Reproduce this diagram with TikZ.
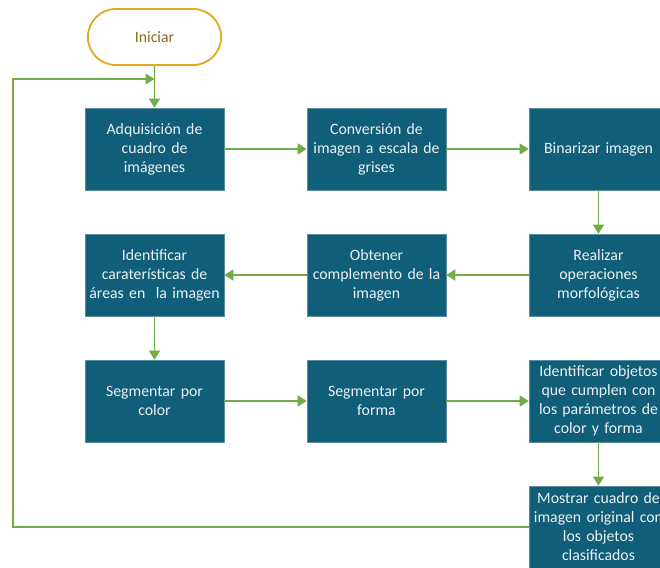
\documentclass[tikz,border=0pt]{standalone}
\usepackage{fontspec}
\setmainfont{Carlito}
\usetikzlibrary{arrows.meta,shapes.misc}
\definecolor{boxfill}{RGB}{16,94,120}
\definecolor{boxtext}{RGB}{236,242,246}
\definecolor{arrowgreen}{RGB}{112,173,71}
\definecolor{termline}{RGB}{228,168,30}
\definecolor{termtext}{RGB}{140,106,30}
\tikzset{
  stepbox/.style={rectangle, fill=boxfill, draw=boxfill!70!white, line width=0.6pt,
    minimum width=137pt, minimum height=82pt, inner sep=1pt,
    text=boxtext, align=center, font=\fontsize{15.8}{19}\selectfont, text width=137pt},
  termbox/.style={rounded rectangle, draw=termline, line width=1.8pt, fill=white,
    minimum width=140pt, minimum height=56pt, text=termtext,
    font=\fontsize{15.8}{19}\selectfont},
  flow/.style={draw=arrowgreen, line width=1.3pt,
    -{Triangle[length=9pt,width=11pt]}},
}
\begin{document}
\begin{tikzpicture}[x=1pt,y=-1pt]
\useasboundingbox (0,0) rectangle (660,567);
\clip (0,0) rectangle (660,567);
\node[termbox] (start) at (154.5,37) {Iniciar};
\node[stepbox] (a) at (154.5,149) {Adquisición de\\cuadro de\\imágenes};
\node[stepbox] (b) at (376.5,149) {Conversión de\\imagen a escala de\\grises};
\node[stepbox] (c) at (598.5,149) {Binarizar imagen};
\node[stepbox] (d) at (598.5,275) {Realizar\\operaciones\\morfológicas};
\node[stepbox] (e) at (376.5,275) {Obtener\\complemento de la\\imagen};
\node[stepbox] (f) at (154.5,275) {Identificar\\caraterísticas de\\áreas en\ \ la imagen};
\node[stepbox] (g) at (154.5,401) {Segmentar por\\color};
\node[stepbox] (h) at (376.5,401) {Segmentar por\\forma};
\node[stepbox] (i) at (598.5,401) {Identificar objetos\\que cumplen con\\los parámetros de\\color y forma};
\node[stepbox] (j) at (598.5,527) {Mostrar cuadro de\\imagen original con\\los objetos\\clasificados};
\coordinate (loopbl) at (13,527);
\coordinate (looptl) at (13,79);
\coordinate (loopend) at (154.5,79);
\draw[flow] (start) -- (a);
\draw[flow] (a) -- (b);
\draw[flow] (b) -- (c);
\draw[flow] (c) -- (d);
\draw[flow] (d) -- (e);
\draw[flow] (e) -- (f);
\draw[flow] (f) -- (g);
\draw[flow] (g) -- (h);
\draw[flow] (h) -- (i);
\draw[flow] (i) -- (j);
\draw[flow] (j.west) -- (loopbl) -- (looptl) -- (loopend);
\end{tikzpicture}
\end{document}
